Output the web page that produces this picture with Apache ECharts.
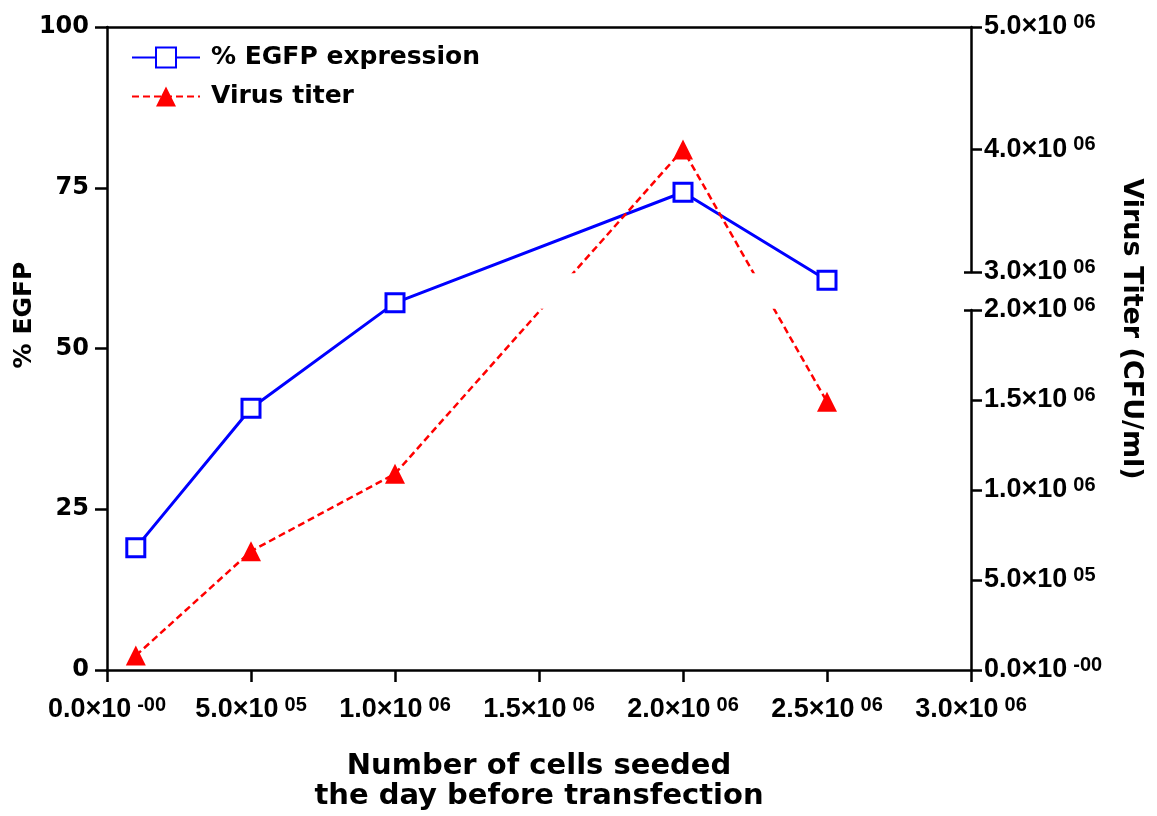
<!DOCTYPE html>
<html><head><meta charset="utf-8">
<script src="https://cdn.jsdelivr.net/npm/echarts@6/dist/echarts.min.js"></script>
<style>html,body{margin:0;padding:0;background:#fff}#c{width:1157px;height:816px}</style>
</head><body><div id="c"></div>
<script>
// ---- data ----
const cellsSeeded = [1e5, 5e5, 1e6, 2e6, 2.5e6];
const egfpPercent = [19.0, 40.7, 57.1, 74.3, 60.6];
const virusTiter = [8.0e4, 6.6e5, 1.09e6, 4.0e6, 1.49e6];
const xTickMantissa = ['0.0', '5.0', '1.0', '1.5', '2.0', '2.5', '3.0'];
const xTickExponent = ['-00', '05', '06', '06', '06', '06', '06'];
const rightLowerMantissa = ['0.0', '5.0', '1.0', '1.5', '2.0'];
const rightLowerExponent = ['-00', '05', '06', '06', '06'];
const rightUpperMantissa = ['3.0', '4.0', '5.0'];
const rightUpperExponent = ['06', '06', '06'];

// ---- layout ----
const PL = 107, PR = 971, PT = 27, PB = 670, BRK_TOP = 272, BRK_BOT = 310;
const X_MAX = 3e6, X_INT = 5e5;
const LOWER_MAX = 2e6, LOWER_INT = 5e5, UPPER_MIN = 3e6, UPPER_MAX = 5e6, UPPER_INT = 1e6;
const lowerH = PB - BRK_BOT, gapH = BRK_BOT - BRK_TOP, upperH = BRK_TOP - PT;
const unitsPerPx = LOWER_MAX / lowerH;
// broken right axis: lower segment in real units, upper segment rescaled above the break
function brokenScale(v) {
  return v <= LOWER_MAX ? v
    : (lowerH + gapH + (v - UPPER_MIN) / (UPPER_MAX - UPPER_MIN) * upperH) * unitsPerPx;
}

const BLACK = '#000';
const labelFont = 'Liberation Sans';
const wideFont = 'DejaVu Sans';
const richSci = {
  m: { fontFamily: labelFont, fontWeight: 'bold', fontSize: 27, color: BLACK, lineHeight: 30 },
  e: { fontFamily: labelFont, fontWeight: 'bold', fontSize: 20, color: BLACK, verticalAlign: 'top', lineHeight: 19, padding: [0, 0, 0, 6] }
};
const sci = (m, e) => '{m|' + m + '×10}{e|' + e + '}';
const axisLineStyle = { show: true, onZero: false, lineStyle: { color: BLACK, width: 2.5 } };
const noLine = { show: false, onZero: false };
const tickOut = (len) => ({ show: true, inside: false, length: len, lineStyle: { color: BLACK, width: 2.5 } });

const egfpData = cellsSeeded.map((x, i) => [x, egfpPercent[i]]);
const titerData = cellsSeeded.map((x, i) => [x, brokenScale(virusTiter[i])]);

const gridBase = { left: PL, width: PR - PL, containLabel: false };
const titerSeries = {
  type: 'line', name: 'Virus titer', clip: true,
  symbol: 'triangle', symbolSize: [20, 20],
  itemStyle: { color: '#ff0000' },
  lineStyle: { color: '#ff0000', width: 2.5, type: [7, 4] },
  data: titerData, z: 3
};

const option = {
  animation: false,
  backgroundColor: '#fff',
  grid: [
    Object.assign({ top: PT, height: PB - PT }, gridBase),
    Object.assign({ top: BRK_BOT, height: PB - BRK_BOT }, gridBase),
    Object.assign({ top: PT, height: BRK_TOP - PT }, gridBase)
  ],
  xAxis: [
    { type: 'value', gridIndex: 0, position: 'bottom', min: 0, max: X_MAX, interval: X_INT,
      axisLine: axisLineStyle, axisTick: tickOut(12), splitLine: { show: false },
      axisLabel: { margin: 25, rich: richSci,
        formatter: v => { const i = Math.round(v / X_INT); return sci(xTickMantissa[i], xTickExponent[i]); } } },
    { type: 'value', gridIndex: 0, position: 'top', min: 0, max: X_MAX,
      axisLine: axisLineStyle, axisTick: { show: false }, axisLabel: { show: false }, splitLine: { show: false } },
    { type: 'value', gridIndex: 1, position: 'bottom', min: 0, max: X_MAX, axisLine: noLine,
      axisTick: { show: false }, axisLabel: { show: false }, splitLine: { show: false } },
    { type: 'value', gridIndex: 2, position: 'bottom', min: 0, max: X_MAX, axisLine: noLine,
      axisTick: { show: false }, axisLabel: { show: false }, splitLine: { show: false } }
  ],
  yAxis: [
    { type: 'value', gridIndex: 0, position: 'left', min: 0, max: 100, interval: 25,
      axisLine: axisLineStyle, axisTick: tickOut(12), splitLine: { show: false },
      axisLabel: { margin: 18, fontFamily: wideFont, fontWeight: 'bold', fontSize: 24, color: BLACK } },
    { type: 'value', gridIndex: 1, position: 'right', min: 0, max: LOWER_MAX, interval: LOWER_INT,
      axisLine: axisLineStyle, axisTick: tickOut(11), splitLine: { show: false },
      axisLabel: { margin: 13, rich: richSci,
        formatter: v => { const i = Math.round(v / LOWER_INT); return sci(rightLowerMantissa[i], rightLowerExponent[i]); } } },
    { type: 'value', gridIndex: 2, position: 'right', min: UPPER_MIN, max: UPPER_MAX, interval: UPPER_INT,
      axisLine: axisLineStyle, axisTick: tickOut(11), splitLine: { show: false },
      axisLabel: { margin: 13, rich: richSci,
        formatter: v => { const i = Math.round((v - UPPER_MIN) / UPPER_INT); return sci(rightUpperMantissa[i], rightUpperExponent[i]); } } },
    { type: 'value', gridIndex: 2, position: 'right', min: brokenScale(UPPER_MIN), max: brokenScale(UPPER_MAX),
      axisLine: noLine, axisTick: { show: false }, axisLabel: { show: false }, splitLine: { show: false } },
    { type: 'value', gridIndex: 2, position: 'right', min: UPPER_MIN, max: UPPER_MAX,
      axisLine: noLine, axisLabel: { show: false }, splitLine: { show: false },
      axisTick: { show: true, inside: true, length: 7, customValues: [UPPER_MIN], lineStyle: { color: BLACK, width: 2.5 } } },
    { type: 'value', gridIndex: 1, position: 'right', min: 0, max: LOWER_MAX,
      axisLine: noLine, axisLabel: { show: false }, splitLine: { show: false },
      axisTick: { show: true, inside: true, length: 7, customValues: [LOWER_MAX], lineStyle: { color: BLACK, width: 2.5 } } }
  ],
  legend: {
    orient: 'vertical', left: 126, top: 40, itemWidth: 68, itemHeight: 25, itemGap: 14,
    selectedMode: false,
    data: ['% EGFP expression', 'Virus titer'],
    textStyle: { fontFamily: wideFont, fontWeight: 'bold', fontSize: 25, color: BLACK, padding: [0, 0, 0, 6] }
  },
  series: [
    { type: 'line', name: '% EGFP expression', xAxisIndex: 0, yAxisIndex: 0,
      symbol: 'rect', symbolSize: 18,
      itemStyle: { color: '#ffffff', borderColor: '#0000ff', borderWidth: 3 },
      lineStyle: { color: '#0000ff', width: 3 },
      data: egfpData, z: 2 },
    Object.assign({ xAxisIndex: 2, yAxisIndex: 1 }, titerSeries),
    Object.assign({ xAxisIndex: 3, yAxisIndex: 3 }, titerSeries)
  ],
  graphic: [
    { type: 'text', x: 24, y: 315, rotation: Math.PI / 2,
      style: { text: '% EGFP', fontFamily: wideFont, fontWeight: 'bold', fontSize: 25, fill: BLACK, align: 'center', verticalAlign: 'middle' } },
    { type: 'text', x: 1131, y: 329, rotation: -Math.PI / 2,
      style: { text: 'Virus Titer (CFU/ml)', fontFamily: wideFont, fontWeight: 'bold', fontSize: 27, fill: BLACK, align: 'center', verticalAlign: 'middle' } },
    { type: 'text', x: (PL + PR) / 2, y: 751,
      style: { text: 'Number of cells seeded\nthe day before transfection', fontFamily: wideFont, fontWeight: 'bold', fontSize: 29, lineHeight: 30, fill: BLACK, align: 'center', verticalAlign: 'top' } }
  ]
};
const chart = echarts.init(document.getElementById('c'), null, { renderer: 'canvas' });
chart.setOption(option);
</script>
</body></html>
